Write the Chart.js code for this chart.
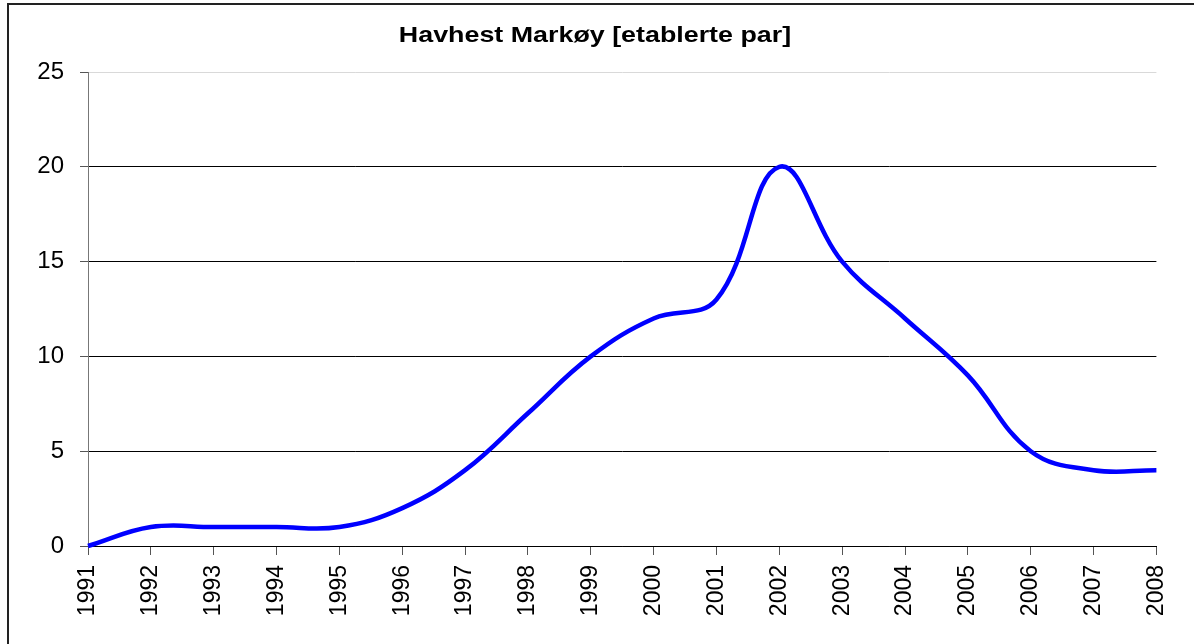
<!DOCTYPE html>
<html>
<head>
<meta charset="utf-8">
<script src="https://cdn.jsdelivr.net/npm/chart.js@4"></script>
<style>
  html, body { margin: 0; padding: 0; background: #fff; }
  #wrap { position: relative; width: 1194px; height: 644px; overflow: hidden; }
  #frame { position: absolute; left: 7px; top: 3px; width: 1300px; height: 700px;
           border-left: 2px solid #222; border-top: 2px solid #222; pointer-events: none; }
  canvas { position: absolute; left: 0; top: 0; }
</style>
</head>
<body>
<div id="wrap">
  <canvas id="c" width="1194" height="644"></canvas>
  <div id="frame"></div>
</div>
<script>
const title = 'Havhest Markøy [etablerte par]';
const years = ['1991','1992','1993','1994','1995','1996','1997','1998','1999','2000','2001','2002','2003','2004','2005','2006','2007','2008'];
const pairs = [0, 1, 1, 1, 1, 2, 4, 7, 10, 12, 13, 20, 15, 12, 9, 5, 4, 4];
const yTicks = [0, 5, 10, 15, 20, 25];

const FONT = "'Liberation Sans', Arial, Helvetica, sans-serif";

// Title drawn as real canvas text, slightly widened like the original
const wideTitle = {
  id: 'wideTitle',
  afterDraw(chart) {
    const ctx = chart.ctx;
    ctx.save();
    ctx.font = "bold 22px " + FONT;
    ctx.fillStyle = '#000';
    ctx.textAlign = 'center';
    ctx.textBaseline = 'alphabetic';
    ctx.translate(595, 42);
    ctx.scale(1.22, 1);
    ctx.fillText(title, 0, 0);
    ctx.restore();
  }
};

new Chart(document.getElementById('c'), {
  type: 'line',
  data: {
    labels: years,
    datasets: [{
      data: pairs,
      borderColor: '#0000FF',
      borderWidth: 4.5,
      pointRadius: 0,
      pointHoverRadius: 0,
      tension: 0.4,
      fill: false,
      clip: 6
    }]
  },
  options: {
    responsive: false,
    animation: false,
    events: [],
    layout: { padding: { left: 0, right: 37, top: 72, bottom: 0 } },
    plugins: {
      legend: { display: false },
      tooltip: { enabled: false },
      title: { display: false }
    },
    scales: {
      x: {
        type: 'category',
        offset: false,
        afterFit: s => { s.height = 98; },
        border: { display: true, color: '#000', width: 1 },
        grid: { display: true, drawOnChartArea: false, drawTicks: true, tickLength: 9, tickColor: '#555' },
        ticks: {
          color: '#000',
          font: { family: FONT, size: 23 },
          minRotation: 90, maxRotation: 90,
          autoSkip: false,
          padding: 10
        }
      },
      y: {
        min: 0, max: 25,
        afterFit: s => { s.width = 88; },
        afterBuildTicks: s => { s.ticks = yTicks.map(v => ({ value: v })); },
        border: { display: true, color: '#777', width: 1 },
        grid: {
          drawTicks: true,
          tickLength: 8,
          tickColor: '#555',
          color: ctx => (ctx.tick && ctx.tick.value === 25) ? '#d9d9d9' : '#000',
          lineWidth: 1
        },
        ticks: {
          color: '#000',
          font: { family: FONT, size: 24 },
          padding: 16
        }
      }
    }
  },
  plugins: [wideTitle]
});
</script>
</body>
</html>
